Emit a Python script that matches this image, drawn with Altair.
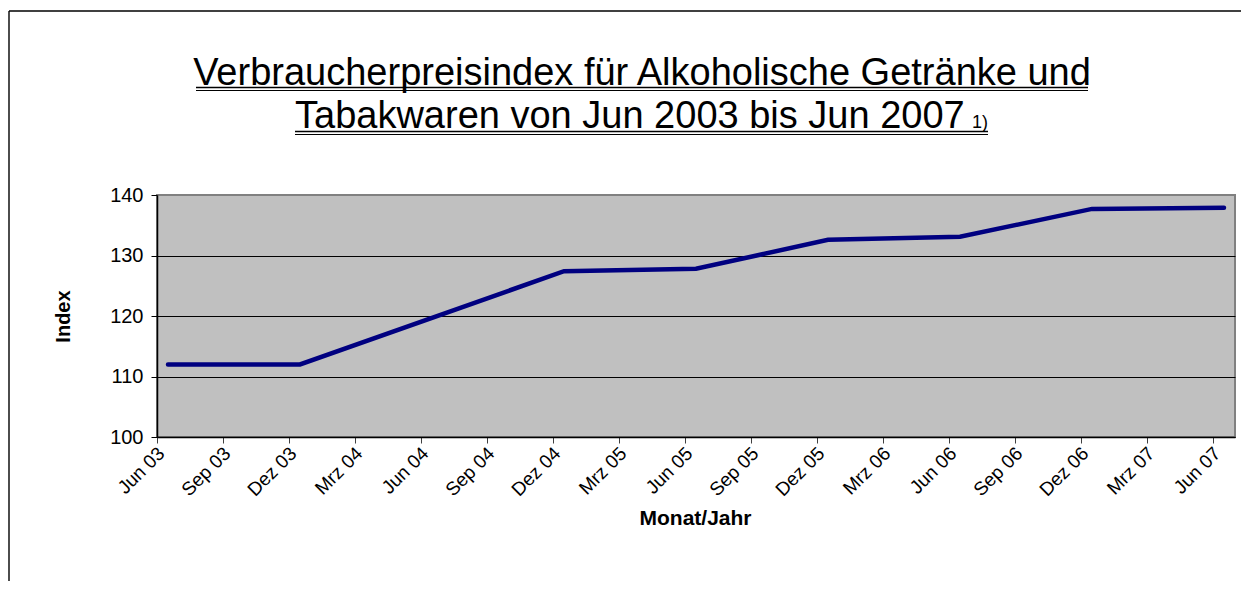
import altair as alt
import pandas as pd

# ---- data ----
months = ["Jun 03", "Dez 03", "Dez 04", "Jun 05", "Dez 05", "Jun 06", "Dez 06", "Jun 07"]
index_values = [112.0, 112.0, 127.4, 127.8, 132.6, 133.1, 137.7, 137.9]
tick_labels = ["Jun 03", "Sep 03", "Dez 03", "Mrz 04", "Jun 04", "Sep 04", "Dez 04",
               "Mrz 05", "Jun 05", "Sep 05", "Dez 05", "Mrz 06", "Jun 06", "Sep 06",
               "Dez 06", "Mrz 07", "Jun 07"]
y_ticks = [100, 110, 120, 130, 140]

title_line1 = "Verbraucherpreisindex für Alkoholische Getränke und"
title_line2 = "Tabakwaren von Jun 2003 bis Jun 2007"
title_note = "1)"
x_title = "Monat/Jahr"
y_title = "Index"

month_num = {"Jan": 1, "Feb": 2, "Mrz": 3, "Apr": 4, "Mai": 5, "Jun": 6,
             "Jul": 7, "Aug": 8, "Sep": 9, "Okt": 10, "Nov": 11, "Dez": 12}


def month_offset(label):
    m, y = label.split()
    return (int(y) - 3) * 12 + month_num[m] - 6


df = pd.DataFrame({
    "Monat": months,
    "pos": [month_offset(m) + 0.5 for m in months],
    "Index": index_values,
})
tick_pos = [month_offset(t) for t in tick_labels]
n_months = month_offset(tick_labels[-1]) + 1

label_array = "[" + ",".join("'" + t + "'" for t in tick_labels) + "]"
FONT = "Liberation Sans"

line = alt.Chart(df).mark_line(color="#000080", strokeWidth=4.5, strokeCap="round").encode(
    x=alt.X("pos:Q",
            scale=alt.Scale(domain=[0, n_months], nice=False, zero=False),
            axis=alt.Axis(values=tick_pos, labelExpr=label_array + "[round(datum.value/3)]",
                          labelAngle=-45, labelAlign="right", labelBaseline="middle",
                          labelPadding=7, labelOffset=4, labelFontSize=19, labelFont=FONT,
                          labelColor="black",
                          tickSize=6, tickColor="#404040", domainColor="black", domainWidth=1.5,
                          grid=False, title=x_title, titleFont=FONT, titleFontSize=21,
                          titleFontWeight="bold", titleColor="black", titleX=538, titleY=81,
                          titleBaseline="middle", titleAlign="center", labelOverlap=False,
                          labelBound=False, labelFlush=False)),
    y=alt.Y("Index:Q",
            scale=alt.Scale(domain=[100, 140], nice=False, zero=False),
            axis=alt.Axis(values=y_ticks, labelFontSize=20, labelFont=FONT, labelColor="black",
                          labelPadding=8, tickSize=6, tickColor="black", domainColor="black",
                          domainWidth=1.5, grid=True,
                          gridColor={"condition": {"test": "datum.value == 140", "value": "#808080"},
                                     "value": "black"},
                          gridWidth=1, title=y_title, titleFont=FONT, titleFontSize=20,
                          titleFontWeight="bold", titleColor="black", titleAngle=270,
                          titleX=-94, titleY=121, titleBaseline="middle", titleAlign="center")),
)

blank = alt.Data(values=[{}])


def text_layer(txt, x, y, size, align):
    return alt.Chart(blank).mark_text(text=txt, fontSize=size, font=FONT, align=align,
                                      baseline="alphabetic", color="black").encode(
        x=alt.value(x), y=alt.value(y))


def hrule(x1, x2, y, w=1.5):
    return alt.Chart(blank).mark_rule(color="black", strokeWidth=w).encode(
        x=alt.value(x1), x2=alt.value(x2), y=alt.value(y))


def vrule(x, y1, y2, w=1.5):
    return alt.Chart(blank).mark_rule(color="black", strokeWidth=w).encode(
        x=alt.value(x), y=alt.value(y1), y2=alt.value(y2))


# plot origin is at page (157, 195)
decor = [
    text_layer(title_line1, 485, -110, 38, "center"),
    hrule(196 - 157, 1088 - 157, 87.5 - 195),
    hrule(196 - 157, 1088 - 157, 90.5 - 195, 1.2),
    text_layer(title_line2, 295 - 157, -67, 38, "left"),
    text_layer(title_note, 972 - 157, -67, 18, "left"),
    hrule(295 - 157, 988 - 157, 131.5 - 195),
    hrule(295 - 157, 988 - 157, 134.5 - 195, 1.2),
    vrule(9 - 157, 11 - 195, 600 - 195, 1.4),
    hrule(9 - 157, 1260 - 157, 11 - 195, 1.4),
]

chart = alt.layer(line, *decor).properties(
    width=1078, height=242,
    autosize=alt.AutoSizeParams(type="none"),
    padding={"left": 149, "top": 187, "right": 6, "bottom": 144},
    background="white",
).configure_view(fill="#C0C0C0", stroke="#808080", strokeWidth=2)

chart.save("out.html", embed_options={"renderer": "svg", "actions": False})
